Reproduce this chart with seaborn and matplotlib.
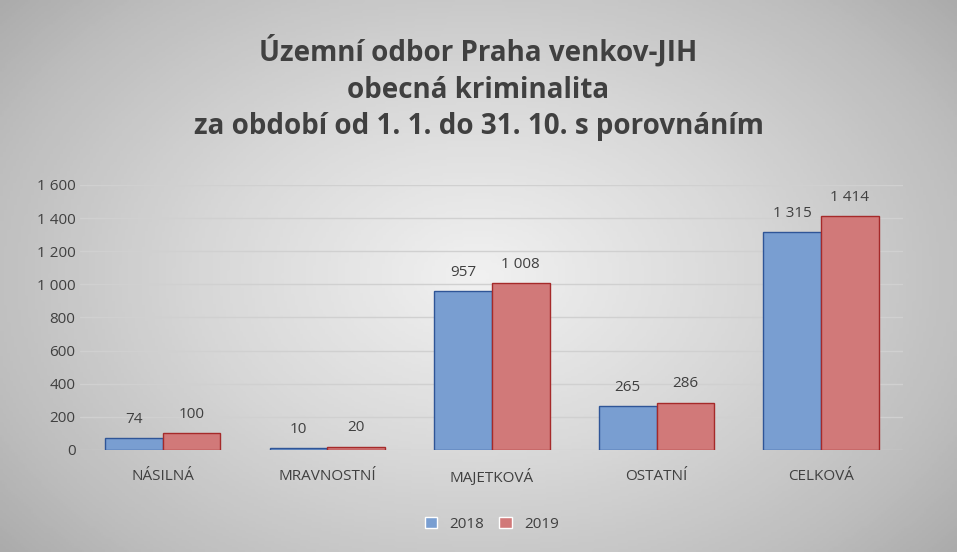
import numpy as np
import pandas as pd
import matplotlib
matplotlib.use("Agg")
import matplotlib.pyplot as plt
import seaborn as sns
from matplotlib.ticker import FuncFormatter

categories = ["NÁSILNÁ", "MRAVNOSTNÍ", "MAJETKOVÁ", "OSTATNÍ", "CELKOVÁ"]
values_2018 = [74, 10, 957, 265, 1315]
values_2019 = [100, 20, 1008, 286, 1414]

df = pd.DataFrame({
    "kategorie": categories * 2,
    "rok": ["2018"] * 5 + ["2019"] * 5,
    "pocet": values_2018 + values_2019,
})

sns.set_theme(style="white")
plt.rcParams["font.family"] = ["Open Sans", "DejaVu Sans"]

fig = plt.figure(figsize=(9.57, 5.52), dpi=100)

# radial-ish gray background
bg = fig.add_axes([0, 0, 1, 1], zorder=-10)
yy, xx = np.mgrid[0:1:200j, 0:1:300j]
r = np.sqrt(((xx - 0.5) * 1.2) ** 2 + (yy - 0.5) ** 2)
bg.imshow(1 - r, cmap="Greys_r", vmin=-1.2, vmax=1.3, aspect="auto", extent=[0, 1, 0, 1])
bg.axis("off")

ax = fig.add_axes([0.084, 0.185, 0.86, 0.48])
ax.patch.set_alpha(0)
palette = {"2018": "#6a9be0", "2019": "#e06a6a"}
edges = {"2018": "#2f5597", "2019": "#a52a2a"}
sns.barplot(data=df, x="kategorie", y="pocet", hue="rok", palette=palette,
            width=0.7, ax=ax, zorder=3)
for cont, rok in zip(ax.containers, ["2018", "2019"]):
    for p in cont:
        p.set_edgecolor(edges[rok])
        p.set_linewidth(1)
    ax.bar_label(cont, labels=[f"{int(v):,}".replace(",", " ") for v in cont.datavalues],
                 padding=8, fontsize=11, color="#404040")

ax.set_ylim(0, 1600)
ax.set_yticks(range(0, 1601, 200))
ax.yaxis.set_major_formatter(FuncFormatter(lambda v, _: f"{int(v):,}".replace(",", " ")))
ax.grid(axis="y", color="#d0d0d0", linewidth=1, zorder=0)
ax.set_xlabel("")
ax.set_ylabel("")
ax.tick_params(axis="both", labelsize=11, labelcolor="#404040", length=0)
ax.tick_params(axis="x", pad=14)
for s in ax.spines.values():
    s.set_visible(False)

leg = ax.legend(loc="upper center", bbox_to_anchor=(0.5, -0.2), ncol=2, frameon=False,
                fontsize=11, handlelength=0.8, handleheight=0.8, columnspacing=1.0)
for t in leg.get_texts():
    t.set_color("#404040")

fig.text(0.5, 0.84, "Územní odbor Praha venkov-JIH\nobecná kriminalita\nza období od 1. 1. do 31. 10. s porovnáním",
         ha="center", va="center", fontsize=20, fontweight="bold", color="#404040", linespacing=1.35)

fig.savefig("out.png", dpi=100)
